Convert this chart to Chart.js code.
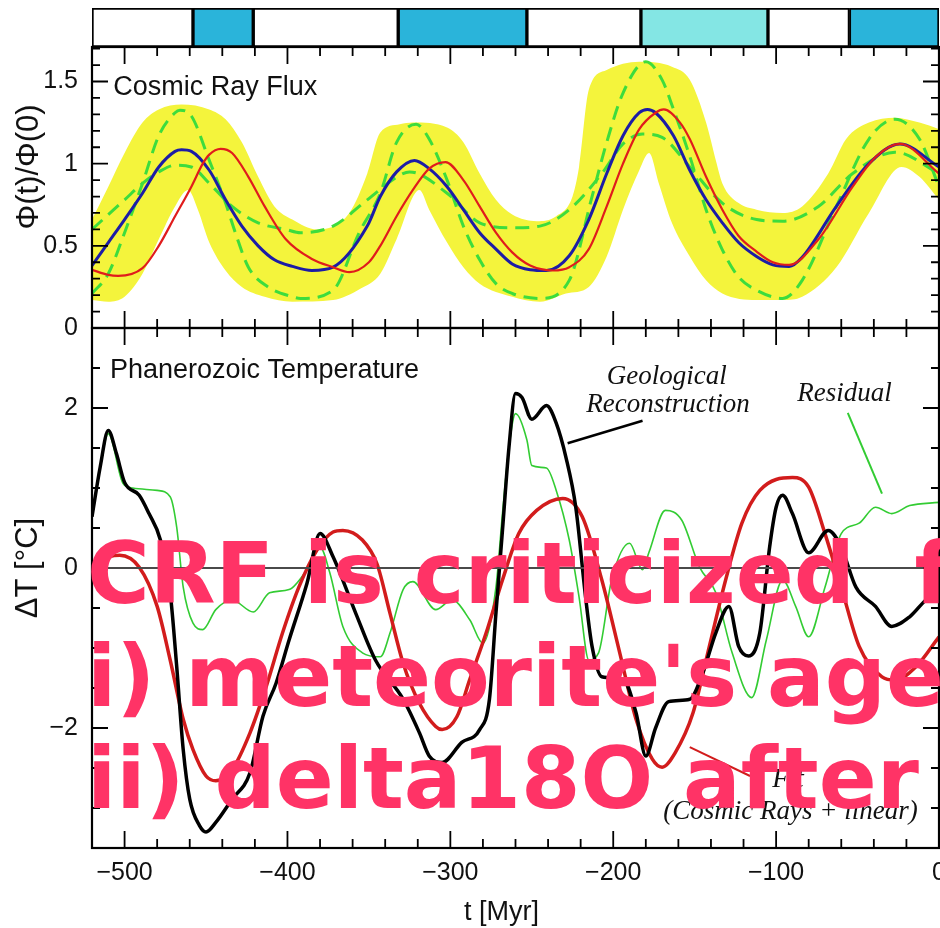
<!DOCTYPE html>
<html>
<head>
<meta charset="utf-8">
<title>Cosmic Ray Flux / Phanerozoic Temperature</title>
<script src="https://cdn.jsdelivr.net/npm/chart.js@4.4.1/dist/chart.umd.min.js"></script>
<style>
  html, body { margin:0; padding:0; background:#fff; overflow:hidden; }
  #wrap { position:relative; width:940px; height:928px; }
  #wrap canvas { position:absolute; left:0; }
  #stripCv { top:0; }
  #fluxCv { top:30px; }
  #tempCv { top:320px; }
  #overlay {
    position:absolute; left:87px; top:523px; width:853px; overflow:hidden; white-space:pre;
    font-family:"DejaVu Sans", sans-serif; font-weight:bold; font-size:85.5px; line-height:102.5px;
    color:#ff3366; pointer-events:none;
  }
</style>
</head>
<body>
<div id="wrap">
  <canvas id="tempCv" width="940" height="608"></canvas>
  <canvas id="fluxCv" width="940" height="330"></canvas>
  <canvas id="stripCv" width="940" height="52"></canvas>
  <div id="overlay">CRF is criticized  f
i) meteorite's age
ii) delta18O after</div>
</div>
<script>
// t in Myr
const tMin = -520, tMax = 0;
const xTicks = [-500, -400, -300, -200, -100, 0];
const fluxTicks = [0, 0.5, 1, 1.5];
const tempTicks = [-2, 0, 2];

// top strip: ice-age boxes
const iceEdges = [-520, -458, -421, -332, -253, -183, -105, -55, 0];
const iceKind = ["warm", "cold", "warm", "cold", "warm", "cool", "warm", "cold"];

// cosmic ray flux panel
const bandTopT = [-520,-510,-500,-489,-479,-465,-448,-438,-428,-418,-408,-397,-382,-362,-351,-343,-331,-323,-302,-292,-282,-272,-262,-247,-235,-225,-221,-215,-204,-184,-164,-153,-143,-137,-133,-123,-112,-96,-84,-68,-57,-43,-27,-12,0];
const bandTopV = [0.66,0.86,1.065,1.25,1.33,1.36,1.33,1.27,1.13,0.92,0.74,0.66,0.60,0.70,0.94,1.19,1.24,1.25,1.22,1.13,0.94,0.78,0.69,0.65,0.68,0.80,0.98,1.45,1.57,1.62,1.59,1.51,1.25,1.02,0.88,0.76,0.72,0.70,0.74,0.94,1.15,1.25,1.28,1.25,1.21];
const bandBotT = [-520,-510,-500,-489,-479,-469,-461,-455,-448,-438,-428,-414,-397,-372,-355,-343,-333,-319,-313,-302,-292,-282,-262,-245,-229,-215,-204,-194,-184,-178,-172,-164,-153,-143,-133,-112,-96,-84,-63,-43,-23,-12,0];
const bandBotV = [0.17,0.16,0.19,0.33,0.54,0.74,0.84,0.72,0.52,0.35,0.25,0.19,0.16,0.17,0.24,0.33,0.54,0.84,0.72,0.52,0.37,0.27,0.19,0.16,0.21,0.25,0.435,0.72,0.96,1.065,0.88,0.64,0.435,0.29,0.21,0.17,0.17,0.19,0.37,0.70,0.98,0.92,0.78];

const hiAmpT = [-520,-510,-500,-489,-479,-469,-466,-459,-448,-438,-432,-424,-412,-397,-392,-372,-356,-343,-333,-321,-313,-302,-292,-282,-272,-262,-245,-227,-213,-204,-194,-180,-170,-163,-153,-143,-133,-123,-112,-96,-84,-63,-43,-27,-12,0];
const hiAmpV = [0.21,0.33,0.58,0.88,1.17,1.31,1.325,1.29,1.02,0.76,0.58,0.37,0.25,0.19,0.18,0.23,0.58,0.82,1.13,1.24,1.15,0.90,0.62,0.415,0.27,0.21,0.18,0.29,0.80,1.13,1.43,1.62,1.51,1.33,1.045,0.72,0.476,0.31,0.23,0.18,0.29,0.74,1.15,1.27,1.15,0.86];
const loAmpT = [-520,-500,-489,-479,-469,-459,-448,-434,-418,-401,-392,-372,-351,-331,-325,-302,-282,-262,-245,-227,-207,-194,-182,-170,-153,-133,-112,-96,-74,-53,-27,0];
const loAmpV = [0.60,0.78,0.88,0.95,0.99,0.98,0.88,0.74,0.64,0.60,0.58,0.62,0.78,0.93,0.95,0.82,0.64,0.61,0.62,0.72,0.94,1.12,1.18,1.16,0.98,0.76,0.66,0.65,0.74,0.94,1.07,0.94];

const modelT = [-520,-510,-500,-489,-479,-469,-465,-459,-448,-438,-428,-418,-408,-397,-385,-372,-351,-343,-333,-322,-313,-302,-292,-282,-272,-262,-251,-241,-227,-215,-204,-194,-184,-179,-174,-163,-153,-143,-133,-123,-112,-102,-92,-84,-63,-43,-24,0];
const modelV = [0.38,0.52,0.66,0.82,0.98,1.075,1.085,1.075,0.96,0.78,0.62,0.50,0.415,0.375,0.35,0.37,0.62,0.80,0.95,1.02,0.97,0.86,0.72,0.58,0.48,0.39,0.355,0.35,0.44,0.66,0.94,1.17,1.31,1.33,1.31,1.17,0.96,0.78,0.64,0.52,0.435,0.384,0.374,0.43,0.74,1.00,1.12,0.98];
const shiftT = [-520,-510,-504,-489,-479,-469,-459,-452,-448,-441,-434,-424,-414,-401,-385,-372,-362,-350,-343,-333,-323,-313,-303,-292,-282,-272,-262,-251,-237,-227,-215,-204,-194,-184,-174,-169,-159,-153,-143,-133,-123,-112,-102,-92,-74,-53,-39,-24,0];
const shiftV = [0.354,0.323,0.317,0.364,0.50,0.68,0.86,1.00,1.055,1.09,1.065,0.92,0.74,0.54,0.42,0.37,0.34,0.40,0.50,0.68,0.84,0.97,1.01,0.90,0.74,0.58,0.46,0.38,0.35,0.37,0.48,0.74,1.00,1.21,1.31,1.33,1.25,1.15,0.92,0.72,0.56,0.465,0.40,0.384,0.54,0.86,1.04,1.12,0.94];

// temperature panel
const geoT = [-520,-515,-510,-505,-500,-491,-485,-478,-472,-468,-464,-460,-454,-450,-444,-434,-423,-415,-407,-399,-388,-380,-372,-358,-346,-329,-319,-313,-305,-293,-282,-276,-272,-268,-264,-260,-256,-250,-241,-235,-229,-223,-217,-213,-207,-194,-186,-180,-174,-166,-153,-145,-137,-129,-123,-117,-110,-104,-100,-96,-90,-80,-68,-60,-51,-39,-29,-18,-8,0];
const geoV = [0.64,1.26,1.72,1.43,1.07,0.91,0.68,0.35,-0.31,-1.23,-2.27,-2.89,-3.22,-3.30,-3.18,-2.89,-2.56,-1.85,-1.44,-0.90,-0.19,0.43,0.14,-0.57,-1.15,-1.64,-2.06,-2.35,-2.43,-2.18,-2.02,-1.64,-0.56,0.47,1.51,2.18,2.13,1.86,2.03,1.81,1.38,0.76,-0.36,-0.98,-1.36,-1.39,-1.81,-2.35,-2.00,-1.67,-1.64,-1.31,-0.81,-0.48,-0.98,-1.10,-0.81,0.26,0.76,0.91,0.68,0.19,0.47,0.26,-0.24,-0.48,-0.73,-0.61,-0.40,-0.30];
const fitT = [-520,-509,-503,-491,-480,-472,-464,-458,-450,-444,-434,-423,-413,-403,-393,-382,-372,-366,-354,-345,-337,-329,-319,-309,-305,-296,-288,-278,-268,-258,-247,-231,-219,-207,-196,-186,-176,-170,-162,-151,-141,-131,-121,-110,-90,-80,-70,-60,-49,-35,-27,-14,0];
const fitV = [-0.05,0.14,0.16,0.01,-0.48,-1.15,-1.89,-2.27,-2.60,-2.66,-2.52,-2.06,-1.48,-0.81,-0.24,0.22,0.45,0.47,0.35,0.05,-0.57,-1.19,-1.69,-1.98,-2.02,-1.86,-1.39,-0.81,-0.15,0.43,0.72,0.87,0.64,-0.15,-1.06,-1.89,-2.39,-2.49,-2.31,-1.81,-0.98,-0.15,0.56,0.97,1.13,1.01,0.43,-0.24,-0.98,-1.36,-1.40,-1.23,-0.86];
const residT = [-520,-515,-510,-501,-495,-480,-472,-468,-464,-458,-452,-444,-434,-421,-411,-399,-388,-380,-374,-366,-354,-343,-337,-329,-323,-309,-299,-288,-280,-272,-268,-264,-260,-253,-250,-241,-235,-227,-221,-215,-209,-201,-190,-182,-178,-168,-158,-147,-137,-127,-115,-106,-96,-88,-80,-70,-60,-49,-39,-29,-18,0];
const residV = [0.64,1.26,1.68,1.06,1.00,0.97,0.89,0.51,-0.24,-0.69,-0.77,-0.52,-0.40,-0.55,-0.31,-0.27,-0.02,0.26,-0.06,-0.73,-1.06,-1.11,-0.81,-0.27,-0.17,-0.52,-0.40,-0.65,-0.94,-0.24,0.68,1.51,1.93,1.60,1.28,1.25,0.97,0.35,-0.36,-1.15,-1.06,-0.15,0.31,-0.02,0.20,0.72,0.60,0.01,-0.31,-1.06,-1.62,-0.90,-0.15,-0.48,-0.86,-0.24,0.43,0.56,0.76,0.68,0.78,0.82];

// leader lines of the annotations
const geoPointerT = [-228, -182], geoPointerV = [1.56, 1.84];
const residPointerT = [-56, -35], residPointerV = [1.94, 0.93];
const fitPointerT = [-153, -116], fitPointerV = [-2.24, -2.60];

const ICE_COLORS = { warm: "#ffffff", cold: "#2ab4da", cool: "#84e6e4" };
const YELLOW = "#f4f43c";

Chart.defaults.font.family = "'Liberation Sans', Arial, sans-serif";
Chart.defaults.color = "#111";

const pts = (ts, vs) => ts.map((t, i) => ({ x: t, y: vs[i] }));
const minusFmt = v => (v < 0 ? "\u2212" + Math.abs(v) : String(v));

function line(data, color, width, extra){
  return Object.assign({
    data, borderColor: color, borderWidth: width, pointRadius: 0,
    fill: false, cubicInterpolationMode: "monotone"
  }, extra || {});
}

// inward ticks, frame, zero line and the text inside each panel
const frame = {
  id: "frame",
  afterDraw(chart, args, o){
    const { ctx, chartArea: a } = chart;
    const x = chart.scales.x, y = chart.scales.y;
    ctx.save();
    if(o.zero){
      const yz = y.getPixelForValue(0);
      ctx.strokeStyle = "#4a4a4a"; ctx.lineWidth = 2;
      ctx.beginPath(); ctx.moveTo(a.left, yz); ctx.lineTo(a.right, yz); ctx.stroke();
    }
    ctx.strokeStyle = "#000"; ctx.lineWidth = 1.8;
    ctx.beginPath();
    for(let t = tMin + o.xMinor; t < tMax; t += o.xMinor){
      const px = x.getPixelForValue(t);
      const len = t % o.xMajor === 0 ? 17 : 9;
      ctx.moveTo(px, a.top); ctx.lineTo(px, a.top + len);
      ctx.moveTo(px, a.bottom); ctx.lineTo(px, a.bottom - len);
    }
    const k0 = Math.ceil(y.min / o.yMinor + 1e-9), k1 = Math.floor(y.max / o.yMinor - 1e-9);
    for(let k = k0; k <= k1; k++){
      const v = k * o.yMinor, r = v / o.yMajor;
      const py = y.getPixelForValue(v);
      const len = Math.abs(r - Math.round(r)) < 1e-6 ? 16 : 8;
      ctx.moveTo(a.left, py); ctx.lineTo(a.left + len, py);
      ctx.moveTo(a.right, py); ctx.lineTo(a.right - len, py);
    }
    ctx.stroke();
    ctx.lineWidth = 2.2;
    ctx.strokeRect(a.left, a.top, a.right - a.left, a.bottom - a.top);

    ctx.fillStyle = "#111"; ctx.textAlign = "left"; ctx.textBaseline = "alphabetic";
    for(const L of o.labels || []){
      ctx.font = L.font;
      ctx.fillText(L.text, x.getPixelForValue(L.t), y.getPixelForValue(L.v));
    }
    if(o.xTitle){
      ctx.font = "27px 'Liberation Sans', Arial, sans-serif";
      ctx.textAlign = "center";
      ctx.fillText(o.xTitle.text, x.getPixelForValue(o.xTitle.t), a.bottom + o.xTitle.dy);
    }
    if(o.yTitle){
      ctx.font = "31px 'Liberation Sans', Arial, sans-serif";
      ctx.translate(o.yTitle.px, y.getPixelForValue(o.yTitle.v));
      ctx.rotate(-Math.PI / 2);
      ctx.textAlign = "center"; ctx.textBaseline = "middle";
      ctx.fillText(o.yTitle.text, 0, 0);
    }
    ctx.restore();
  }
};

const SANS = "27px 'Liberation Sans', Arial, sans-serif";
const SERIF = "italic 27px 'Liberation Serif', 'Times New Roman', serif";
const base = {
  responsive: false, animation: false, events: [],
  plugins: { legend: { display: false }, tooltip: { enabled: false } }
};

// ---- strip ----
new Chart(document.getElementById("stripCv"), {
  type: "bar",
  data: {
    labels: ["ice"],
    datasets: [{
      data: iceKind.map((k, i) => ({ x: [iceEdges[i], iceEdges[i + 1]], y: "ice" })),
      backgroundColor: iceKind.map(k => ICE_COLORS[k]),
      borderColor: "#000", borderWidth: 2, borderSkipped: false,
      barPercentage: 1, categoryPercentage: 1
    }]
  },
  options: Object.assign({}, base, {
    indexAxis: "y",
    layout: { padding: { left: 92, right: 1, top: 8, bottom: 5 } },
    scales: {
      x: { type: "linear", min: tMin, max: tMax, display: false },
      y: { type: "category", display: false }
    }
  })
});

// ---- cosmic ray flux ----
new Chart(document.getElementById("fluxCv"), {
  type: "line",
  data: {
    datasets: [
      line(pts(bandTopT, bandTopV), YELLOW, 0, { fill: "+1", backgroundColor: YELLOW, order: 5 }),
      line(pts(bandBotT, bandBotV), YELLOW, 0, { order: 5 }),
      line(pts(hiAmpT, hiAmpV), "#3ddc3d", 3, { borderDash: [14, 8], order: 4 }),
      line(pts(loAmpT, loAmpV), "#3ddc3d", 3, { borderDash: [14, 8], order: 3 }),
      line(pts(modelT, modelV), "#1c1ca6", 3, { order: 2 }),
      line(pts(shiftT, shiftV), "#e01c1c", 2.2, { order: 1 })
    ]
  },
  options: Object.assign({}, base, {
    layout: { padding: { left: 0, right: 1, top: 17, bottom: 32 } },
    plugins: {
      legend: { display: false }, tooltip: { enabled: false },
      filler: { drawTime: "beforeDatasetsDraw" },
      frame: {
        xMinor: 20, xMajor: 100, yMinor: 0.1, yMajor: 0.5,
        labels: [{ text: "Cosmic Ray Flux", t: -507, v: 1.42, font: SANS }],
        yTitle: { text: "\u03a6(t)/\u03a6(0)", px: 29, v: 0.98 }
      }
    },
    scales: {
      x: { type: "linear", min: tMin, max: tMax, display: false },
      y: {
        type: "linear", min: 0, max: 1.71,
        afterBuildTicks: s => { s.ticks = fluxTicks.map(v => ({ value: v })); },
        afterFit: s => { s.width = 92; s.paddingTop = 0; s.paddingBottom = 0; },
        grid: { display: false, drawTicks: false }, border: { display: false },
        ticks: { padding: 14, font: { size: 25 }, color: "#111", callback: v => String(v) }
      }
    }
  }),
  plugins: [frame]
});

// ---- temperature ----
new Chart(document.getElementById("tempCv"), {
  type: "line",
  data: {
    datasets: [
      line(pts(residT, residV), "#33cc33", 1.6, { order: 3 }),
      line(pts(fitT, fitV), "#d21c1c", 3.5, { order: 2 }),
      line(pts(geoT, geoV), "#000000", 3.5, { order: 1 }),
      line(pts(geoPointerT, geoPointerV), "#000000", 2.5, { cubicInterpolationMode: "default", order: 0 }),
      line(pts(residPointerT, residPointerV), "#33cc33", 2, { cubicInterpolationMode: "default", order: 0 }),
      line(pts(fitPointerT, fitPointerV), "#d21c1c", 2, { cubicInterpolationMode: "default", order: 0 })
    ]
  },
  options: Object.assign({}, base, {
    layout: { padding: { left: 0, right: 1, top: 8, bottom: 0 } },
    plugins: {
      legend: { display: false }, tooltip: { enabled: false },
      frame: {
        xMinor: 20, xMajor: 100, yMinor: 0.5, yMajor: 2, zero: true,
        labels: [
          { text: "Phanerozoic Temperature", t: -509, v: 2.38, font: SANS },
          { text: "Geological", t: -204, v: 2.305, font: SERIF },
          { text: "Reconstruction", t: -216.5, v: 1.944, font: SERIF },
          { text: "Residual", t: -87, v: 2.093, font: SERIF },
          { text: "Fit", t: -102.4, v: -2.741, font: SERIF },
          { text: "(Cosmic Rays + linear)", t: -169.3, v: -3.14, font: SERIF }
        ],
        xTitle: { text: "t [Myr]", t: -268.6, dy: 72 },
        yTitle: { text: "\u0394T [\u00b0C]", px: 28, v: 0.0 }
      }
    },
    scales: {
      x: {
        type: "linear", min: tMin, max: tMax,
        afterBuildTicks: s => { s.ticks = xTicks.map(v => ({ value: v })); },
        afterFit: s => { s.height = 80; s.paddingLeft = 0; s.paddingRight = 0; },
        grid: { display: false, drawTicks: false }, border: { display: false },
        ticks: { padding: 10, font: { size: 25 }, color: "#111", maxRotation: 0, callback: minusFmt }
      },
      y: {
        type: "linear", min: -3.5, max: 3,
        afterBuildTicks: s => { s.ticks = tempTicks.map(v => ({ value: v })); },
        afterFit: s => { s.width = 92; s.paddingTop = 0; s.paddingBottom = 0; },
        grid: { display: false, drawTicks: false }, border: { display: false },
        ticks: { padding: 14, font: { size: 25 }, color: "#111", callback: minusFmt }
      }
    }
  }),
  plugins: [frame]
});
</script>
</body>
</html>
